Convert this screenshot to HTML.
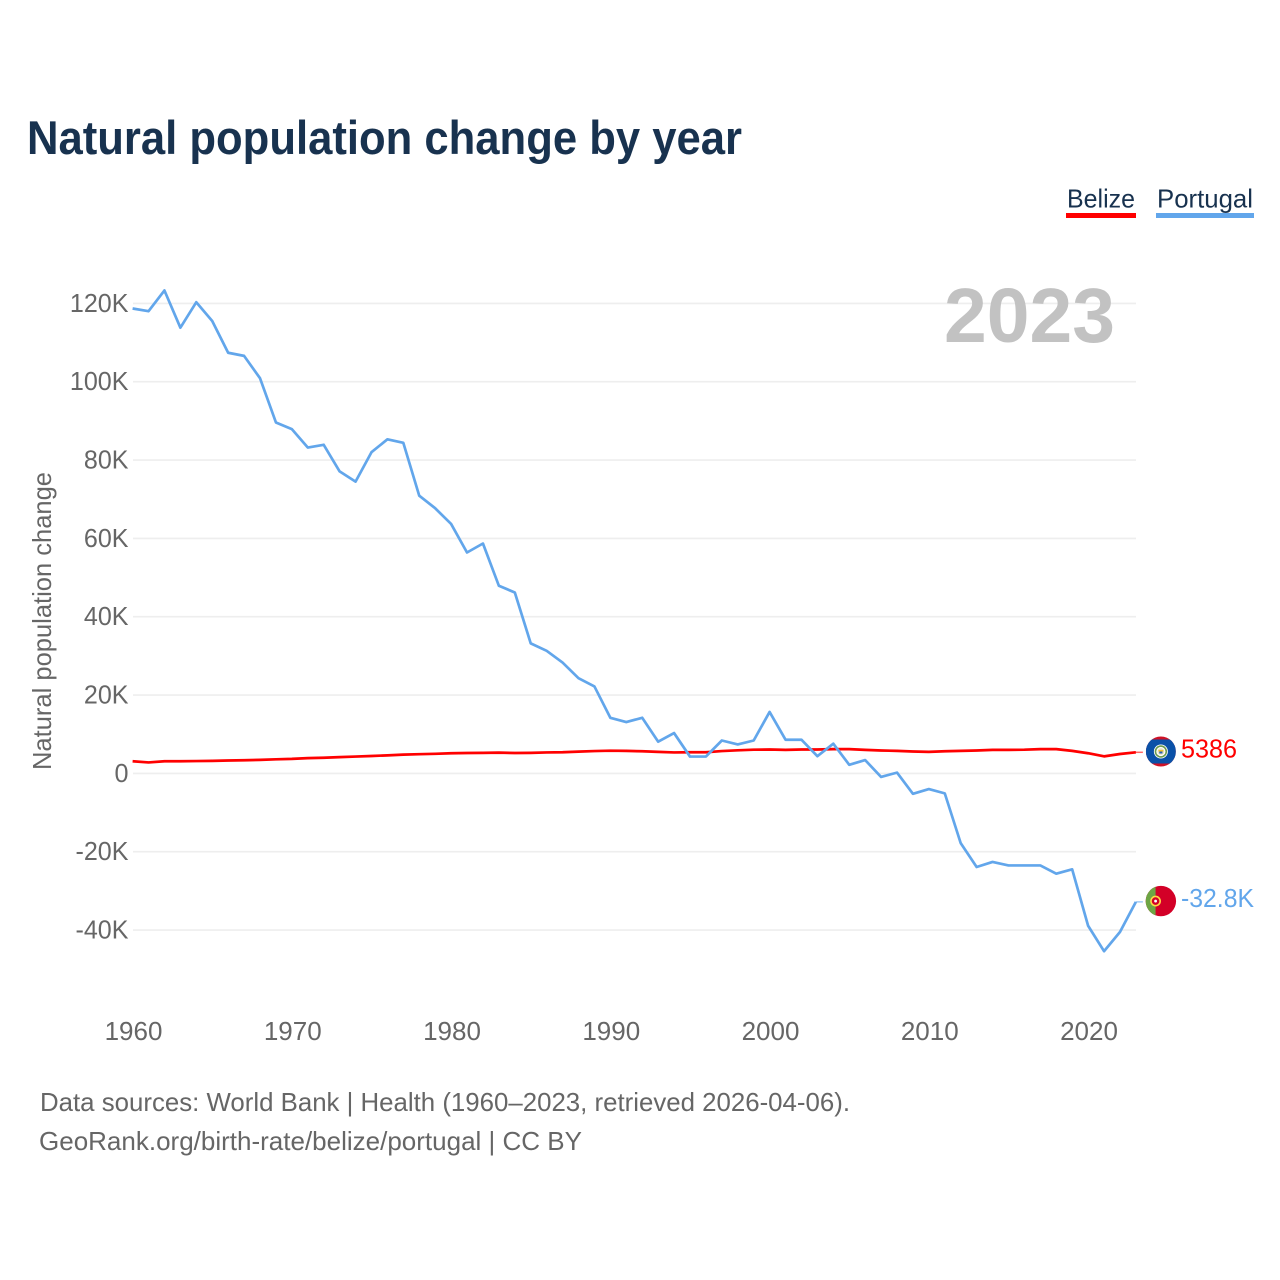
<!DOCTYPE html>
<html lang="en">
<head>
<meta charset="utf-8">
<title>Natural population change by year</title>
<style>
html,body{margin:0;padding:0;background:#fff;}
svg{display:block;}
text{font-family:"Liberation Sans",Arial,sans-serif;}
</style>
</head>
<body>
<svg id="chart" xmlns="http://www.w3.org/2000/svg" width="1280" height="1280" viewBox="0 0 1280 1280">
  <rect x="0" y="0" width="1280" height="1280" fill="#ffffff"/>
  <text x="27" y="154" font-size="47" font-weight="700" fill="#18324f" textLength="715" lengthAdjust="spacingAndGlyphs">Natural population change by year</text>

  <g>
    <text x="1067" y="207.5" font-size="26" fill="#18324f" textLength="68" lengthAdjust="spacingAndGlyphs">Belize</text>
    <rect x="1066" y="213" width="70" height="5" fill="#ff0000"/>
  </g>
  <g>
    <text x="1157" y="207.5" font-size="26" fill="#18324f" textLength="96" lengthAdjust="spacingAndGlyphs">Portugal</text>
    <rect x="1156" y="213" width="98" height="5" fill="#62a6eb"/>
  </g>

  <text transform="translate(51,770) rotate(-90)" x="0" y="0" font-size="26" fill="#666666" textLength="298" lengthAdjust="spacingAndGlyphs">Natural population change</text>
  <g id="grid"></g>
  <text x="944" y="342" font-size="77" font-weight="700" fill="#c2c2c2" textLength="171" lengthAdjust="spacingAndGlyphs">2023</text>
  <g id="ylabels"></g>
  <g id="xlabels"></g>
  <g id="series"></g>

  <g id="flag-belize">
    <clipPath id="clip-bz"><circle cx="0" cy="0" r="15"/></clipPath>
    <g clip-path="url(#clip-bz)">
      <rect x="-15" y="-15" width="30" height="30" fill="#ce1126"/>
      <rect x="-15" y="-12" width="30" height="24" fill="#0a51a8"/>
    </g>
    <circle cx="0" cy="0" r="7" fill="#ffffff"/>
    <circle cx="0" cy="0" r="5.4" fill="none" stroke="#6b9b4e" stroke-width="1.6"/>
    <circle cx="0" cy="0" r="3.4" fill="#e8e4c8"/>
    <rect x="-2.4" y="-1.6" width="4.8" height="1.6" fill="#f2c230"/>
    <rect x="-1.6" y="0" width="3.2" height="2" fill="#2a62b0"/>
  </g>
  <g id="flag-portugal">
    <clipPath id="clip-pt"><circle cx="0" cy="0" r="15.2"/></clipPath>
    <g clip-path="url(#clip-pt)">
      <rect x="-16" y="-16" width="32" height="32" fill="#d30027"/>
      <rect x="-16" y="-16" width="10.7" height="32" fill="#6da544"/>
    </g>
    <circle cx="-5.3" cy="0" r="4.6" fill="#d30027" stroke="#ffda44" stroke-width="1.6"/>
    <circle cx="-5.3" cy="0" r="1.4" fill="#ffffff"/>
  </g>

  <text id="label-belize" x="1181" y="757" font-size="26" fill="#ff0000"></text>
  <text id="label-portugal" x="1181" y="907" font-size="26" fill="#62a6eb"></text>

  <text x="40" y="1111" font-size="26" fill="#666666" textLength="810" lengthAdjust="spacingAndGlyphs">Data sources: World Bank | Health (1960–2023, retrieved 2026-04-06).</text>
  <text x="39" y="1150" font-size="26" fill="#666666" textLength="543" lengthAdjust="spacingAndGlyphs">GeoRank.org/birth-rate/belize/portugal | CC BY</text>
</svg>
<script>
const startYear = 1960;
const xTickYears = [1960, 1970, 1980, 1990, 2000, 2010, 2020];
const yTickValues = [120, 100, 80, 60, 40, 20, 0, -20, -40];
const yTickLabels = ["120K", "100K", "80K", "60K", "40K", "20K", "0", "-20K", "-40K"];
const belizeValues = [3.1, 2.8, 3.1, 3.1, 3.15, 3.2, 3.3, 3.35, 3.45, 3.6,
  3.7, 3.9, 4.0, 4.15, 4.3, 4.45, 4.6, 4.8, 4.9, 5.0,
  5.15, 5.2, 5.25, 5.3, 5.2, 5.25, 5.35, 5.4, 5.55, 5.7,
  5.8, 5.75, 5.65, 5.5, 5.35, 5.4, 5.4, 5.7, 5.9, 6.05,
  6.1, 6.0, 6.1, 6.1, 6.2, 6.2, 6.0, 5.85, 5.75, 5.6,
  5.5, 5.65, 5.75, 5.85, 6.0, 6.0, 6.05, 6.2, 6.2, 5.75,
  5.15, 4.35, 4.95, 5.386];
const portugalValues = [118.7, 118.0, 123.3, 113.8, 120.3, 115.5, 107.4, 106.6, 100.9, 89.6,
  87.9, 83.2, 83.9, 77.1, 74.5, 82.0, 85.3, 84.4, 70.9, 67.7,
  63.7, 56.4, 58.7, 47.9, 46.2, 33.2, 31.3, 28.3, 24.3, 22.2,
  14.2, 13.1, 14.2, 8.1, 10.3, 4.3, 4.3, 8.4, 7.4, 8.4,
  15.7, 8.6, 8.6, 4.4, 7.6, 2.2, 3.4, -0.9, 0.2, -5.2,
  -4.0, -5.1, -17.8, -23.9, -22.6, -23.5, -23.5, -23.5, -25.6, -24.5,
  -38.9, -45.4, -40.5, -32.8];
const belizeEndLabel = "5386";
const portugalEndLabel = "-32.8K";

const NS = "http://www.w3.org/2000/svg";
function xScale(year) { return 132.6 + (year - 1960) * 15.925; }
function yScale(v) { return 773.4 - v * 3.9167; }
function make(tag, attrs, parent) {
  const el = document.createElementNS(NS, tag);
  for (const k in attrs) el.setAttribute(k, attrs[k]);
  parent.appendChild(el);
  return el;
}

const gridG = document.getElementById("grid");
const yG = document.getElementById("ylabels");
yTickValues.forEach(function (v, i) {
  const line = make("line", { x1: 133, x2: 1136, y1: yScale(v), y2: yScale(v), stroke: "#eeeeee", "stroke-width": 1.6 }, gridG);
  
  
  const t = make("text", { x: 128.5, y: yScale(v) + 8.5, "text-anchor": "end", "font-size": 26, fill: "#666666" }, yG);
  
  
  t.textContent = yTickLabels[i];
  t.setAttribute("textLength", (t.getComputedTextLength() * 0.965).toFixed(1));
  t.setAttribute("lengthAdjust", "spacingAndGlyphs");
});

const xG = document.getElementById("xlabels");
xTickYears.forEach(function (yr) {
  const t = make("text", { x: xScale(yr) + 0.9, y: 1040, "text-anchor": "middle", "font-size": 26, fill: "#666666" }, xG);
  
  
  t.textContent = String(yr);
});

function pathFor(values) {
  return values.map(function (v, i) {
    return (i ? "L" : "M") + xScale(startYear + i).toFixed(2) + " " + yScale(v).toFixed(2);
  }).join(" ");
}
const seriesG = document.getElementById("series");

const belizeLine = make("path", { d: pathFor(belizeValues), fill: "none", stroke: "#ff0000", "stroke-width": 2.7, "stroke-linejoin": "round" }, seriesG);



const portugalLine = make("path", { d: pathFor(portugalValues), fill: "none", stroke: "#62a6eb", "stroke-width": 2.7, "stroke-linejoin": "round" }, seriesG);



const endYear = startYear + belizeValues.length - 1;
const endX = xScale(endYear);
const belizeEndY = yScale(belizeValues[belizeValues.length - 1]);
const portugalEndY = yScale(portugalValues[portugalValues.length - 1]);

const belizeConn = make("line", { x1: endX, x2: endX + 7, y1: belizeEndY, y2: belizeEndY, stroke: "#ff0000", "stroke-width": 1.5, "stroke-opacity": 0.6 }, seriesG);



const portugalConn = make("line", { x1: endX, x2: endX + 7, y1: portugalEndY, y2: portugalEndY, stroke: "#62a6eb", "stroke-width": 1.5, "stroke-opacity": 0.6 }, seriesG);



document.getElementById("flag-belize").setAttribute("transform", "translate(" + (endX + 25) + "," + (belizeEndY - 0.8) + ")");
document.getElementById("flag-portugal").setAttribute("transform", "translate(" + (endX + 25) + "," + (portugalEndY - 0.8) + ")");

const lb = document.getElementById("label-belize");
lb.textContent = belizeEndLabel;
lb.setAttribute("y", belizeEndY + 5);
lb.setAttribute("textLength", 56);
lb.setAttribute("lengthAdjust", "spacingAndGlyphs");
const lp = document.getElementById("label-portugal");
lp.textContent = portugalEndLabel;
lp.setAttribute("y", portugalEndY + 5);
lp.setAttribute("textLength", 73);
lp.setAttribute("lengthAdjust", "spacingAndGlyphs");
</script>
</body>
</html>
